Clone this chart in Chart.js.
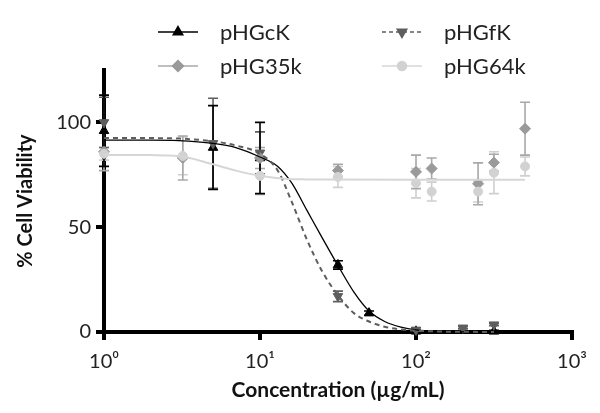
<!DOCTYPE html>
<html>
<head>
<meta charset="utf-8">
<script src="https://cdn.jsdelivr.net/npm/chart.js@4"></script>
<style>
  body { margin: 0; background: #fff; }
  #wrap { width: 600px; height: 413px; }
</style>
</head>
<body>
<div id="wrap"><canvas id="viab"></canvas></div>
<script>
// measured points (concentration, % viability, error)
const ckX = [1, 5, 10, 31.6, 50, 100, 316];
const ckY = [96, 88, 83, 32, 9, 0.3, 0.3];
const ckErr = [17, 20, 17, 2, 1, 0.5, 0.5];

const fkX = [1, 5, 10, 31.6, 100, 200, 316];
const fkY = [100, 90, 85.5, 17, 1, 2, 3.5];
const fkErr = [12, 21.5, 10, 2.5, 1, 0.5, 0.5];

const k35X = [1, 3.2, 10, 31.6, 100, 126, 250, 316, 500];
const k35Y = [86, 83, 83, 77, 76.4, 78, 70.7, 80.8, 97];
const k35Err = [9, 10.5, 5, 3, 8, 5, 10, 4, 12.6];

const k64X = [1, 3.2, 10, 31.6, 100, 126, 250, 316, 500];
const k64Y = [85, 84, 74.5, 74, 71, 67, 67, 76, 79];
const k64Err = [3, 9, 9, 5, 7, 4.5, 5, 10, 4.5];

// fitted curves
const fitX = [1, 2, 3, 5, 7, 10, 13, 16, 20, 25, 32, 40, 50, 63, 80, 100, 150, 200, 316];
const ckFit = [91.5, 91.5, 91.3, 90, 88, 83.5, 79, 71, 58, 45, 31, 19, 10, 5, 2.3, 1, 0.3, 0.1, 0];
const fkFit = [92.5, 92.5, 92.3, 91, 89, 85, 77, 62, 44, 29, 17, 9, 5, 2.5, 1.2, 0.6, 0.2, 0.1, 0];
const k64FitX = [1, 2, 3, 5, 7, 10, 15, 20, 30, 100, 500];
const k64Fit = [84.5, 84.4, 84, 80, 77, 74.5, 73, 72.8, 72.7, 72.6, 72.6];

const xTicks = [1, 10, 100, 1000];
const yTicks = [0, 50, 100];
const sup = { 1: '10\u2070', 10: '10\u00b9', 100: '10\u00b2', 1000: '10\u00b3' };

const FONT = "Lato, 'Liberation Sans', sans-serif";

function pts(xs, ys) { return xs.map((x, i) => ({ x: x, y: ys[i] })); }

const series = [
  { label: 'pHGcK', xs: ckX, ys: ckY, err: ckErr, color: '#000000', bar: '#000000', style: 'triangle', rot: 0, r: 5.5, dash: [], line: '#000000' },
  { label: 'pHGfK', xs: fkX, ys: fkY, err: fkErr, color: '#5e5e5e', bar: '#5e5e5e', style: 'triangle', rot: 180, r: 5.5, dash: [4, 3], line: '#5e5e5e' },
  { label: 'pHG35k', xs: k35X, ys: k35Y, err: k35Err, color: '#9a9a9a', bar: '#a8a8a8', style: 'rectRot', rot: 0, r: 5.5, dash: [], line: '#aaaaaa' },
  { label: 'pHG64k', xs: k64X, ys: k64Y, err: k64Err, color: '#d2d2d2', bar: '#cfcfcf', style: 'circle', rot: 0, r: 4.5, dash: [], line: '#d6d6d6' }
];

const datasets = [
  { label: 'fit64', data: pts(k64FitX, k64Fit), showLine: true, pointRadius: 0, borderColor: '#d6d6d6', borderWidth: 2, cubicInterpolationMode: 'monotone', clip: false },
  { label: 'fitfk', data: pts(fitX, fkFit), showLine: true, pointRadius: 0, borderColor: '#5e5e5e', borderWidth: 2, borderDash: [5, 4], cubicInterpolationMode: 'monotone', clip: false },
  { label: 'fitck', data: pts(fitX, ckFit), showLine: true, pointRadius: 0, borderColor: '#000000', borderWidth: 1.3, cubicInterpolationMode: 'monotone', clip: false }
];
[3, 2, 1, 0].forEach(i => {
  const s = series[i];
  datasets.push({
    label: s.label, data: pts(s.xs, s.ys), showLine: false,
    pointStyle: s.style, rotation: s.rot, pointRadius: s.r,
    backgroundColor: s.color, borderColor: s.color, borderWidth: 1, clip: false
  });
});

const errorBars = {
  id: 'errorBars',
  beforeDatasetsDraw(chart) {
    const ctx = chart.ctx, xs = chart.scales.x, ys = chart.scales.y;
    ctx.save();
    [3, 2, 1, 0].forEach(i => {
      const s = series[i];
      ctx.strokeStyle = s.bar;
      ctx.lineWidth = 1.6;
      s.xs.forEach((x, j) => {
        const px = xs.getPixelForValue(x);
        const top = ys.getPixelForValue(s.ys[j] + s.err[j]);
        const bot = ys.getPixelForValue(Math.max(0, s.ys[j] - s.err[j]));
        ctx.beginPath();
        ctx.moveTo(px, top); ctx.lineTo(px, bot);
        ctx.moveTo(px - 5, top); ctx.lineTo(px + 5, top);
        ctx.moveTo(px - 5, bot); ctx.lineTo(px + 5, bot);
        ctx.stroke();
      });
    });
    ctx.restore();
  }
};

const legendBox = {
  id: 'legendBox',
  afterDraw(chart) {
    const ctx = chart.ctx;
    const spots = [[158, 32], [382, 32], [158, 66], [382, 66]];
    ctx.save();
    series.forEach((s, k) => {
      const [x0, y0] = spots[k];
      ctx.strokeStyle = s.line;
      ctx.lineWidth = 1.5;
      ctx.setLineDash(s.dash);
      ctx.beginPath();
      ctx.moveTo(x0, y0); ctx.lineTo(x0 + 40, y0);
      ctx.stroke();
      ctx.setLineDash([]);
      ctx.fillStyle = s.color;
      ctx.strokeStyle = s.color;
      Chart.helpers.drawPoint(ctx, { pointStyle: s.style, radius: s.r, rotation: s.rot, borderWidth: 1 }, x0 + 20, y0);
      ctx.fillStyle = '#222';
      ctx.font = '22px ' + FONT;
      ctx.textBaseline = 'middle';
      ctx.fillText(s.label, x0 + 62, y0 + 1);
    });
    ctx.restore();
  }
};

new Chart(document.getElementById('viab').getContext('2d'), {
  type: 'scatter',
  data: { datasets: datasets },
  plugins: [errorBars, legendBox],
  options: {
    responsive: true,
    maintainAspectRatio: false,
    animation: false,
    layout: { padding: { top: 70, right: 28, left: 14, bottom: 0 } },
    plugins: { legend: { display: false }, tooltip: { enabled: false } },
    scales: {
      x: {
        type: 'logarithmic', min: 1, max: 1000,
        afterBuildTicks: s => { s.ticks = xTicks.map(v => ({ value: v })); },
        afterFit: s => { s.height = 81; },
        grid: { drawOnChartArea: false, color: '#000', lineWidth: 4, tickLength: 8 },
        border: { display: true, color: '#000', width: 4 },
        ticks: {
          color: '#222', padding: 10, maxRotation: 0,
          font: { family: FONT, size: 20 },
          callback: v => sup[v] || ''
        },
        title: {
          display: true, text: 'Concentration (\u00b5g/mL)', color: '#111',
          font: { family: FONT, size: 21, weight: 'bold' }, padding: { top: 0, bottom: 10 }
        }
      },
      y: {
        min: 0, max: 125,
        afterBuildTicks: s => { s.ticks = yTicks.map(v => ({ value: v })); },
        afterFit: s => { s.width = 90; },
        grid: { drawOnChartArea: false, color: '#000', lineWidth: 4, tickLength: 8 },
        border: { display: true, color: '#000', width: 4 },
        ticks: { color: '#222', padding: 5, font: { family: FONT, size: 20 } },
        title: {
          display: true, text: '% Cell Viability', color: '#111',
          font: { family: FONT, size: 20, weight: 'bold' }, padding: { top: 0, bottom: 0 }
        }
      }
    }
  }
});
</script>
</body>
</html>
